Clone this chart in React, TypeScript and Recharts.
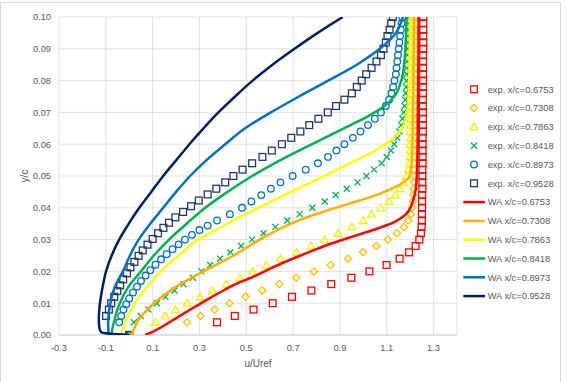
import React from 'react'
import { ScatterChart, Scatter, XAxis, YAxis, CartesianGrid, Legend } from 'recharts'

type Pt = [number, number] // [u/Uref, y/c]

const X_TICKS = [-0.3, -0.1, 0.1, 0.3, 0.5, 0.7, 0.9, 1.1, 1.3]
const Y_TICKS = [0, 0.01, 0.02, 0.03, 0.04, 0.05, 0.06, 0.07, 0.08, 0.09, 0.1]

// measured profiles
const EXP_6753: Pt[] = [
  [0, 0], [0.375, 0.004], [0.451, 0.006], [0.531, 0.008], [0.613, 0.010], [0.695, 0.012], [0.778, 0.014],
  [0.863, 0.016], [0.949, 0.018], [1.026, 0.020], [1.099, 0.022], [1.155, 0.024], [1.195, 0.026],
  [1.223, 0.028], [1.239, 0.030], [1.246, 0.032], [1.249, 0.034], [1.250, 0.036], [1.250, 0.038],
  [1.251, 0.040], [1.251, 0.042], [1.251, 0.044], [1.252, 0.046], [1.252, 0.048], [1.252, 0.050],
  [1.252, 0.052], [1.253, 0.054], [1.253, 0.056], [1.253, 0.058], [1.253, 0.060], [1.253, 0.062],
  [1.254, 0.064], [1.254, 0.066], [1.254, 0.068], [1.254, 0.070], [1.254, 0.072], [1.254, 0.074],
  [1.255, 0.076], [1.255, 0.078], [1.255, 0.080], [1.255, 0.082], [1.255, 0.084], [1.255, 0.086],
  [1.255, 0.088], [1.256, 0.090], [1.256, 0.092], [1.256, 0.094], [1.256, 0.096], [1.256, 0.098], [1.256, 0.100],
]

const EXP_7308: Pt[] = [
  [0, 0], [0.247, 0.004], [0.304, 0.006], [0.365, 0.008], [0.428, 0.010], [0.497, 0.012], [0.568, 0.014],
  [0.641, 0.016], [0.714, 0.018], [0.789, 0.020], [0.860, 0.022], [0.935, 0.024], [0.999, 0.026],
  [1.056, 0.028], [1.105, 0.030], [1.143, 0.032], [1.173, 0.034], [1.192, 0.036], [1.203, 0.038],
  [1.209, 0.040], [1.212, 0.042], [1.214, 0.044], [1.215, 0.046], [1.216, 0.048], [1.216, 0.050],
  [1.217, 0.052], [1.217, 0.054], [1.218, 0.056], [1.218, 0.058], [1.219, 0.060], [1.219, 0.062],
  [1.220, 0.064], [1.220, 0.066], [1.220, 0.068], [1.221, 0.070], [1.221, 0.072], [1.221, 0.074],
  [1.222, 0.076], [1.222, 0.078], [1.222, 0.080], [1.223, 0.082], [1.223, 0.084], [1.223, 0.086],
  [1.223, 0.088], [1.224, 0.090], [1.224, 0.092], [1.224, 0.094], [1.224, 0.096], [1.225, 0.098], [1.225, 0.100],
]

const EXP_7863: Pt[] = [
  [0, 0], [0.111, 0.004], [0.154, 0.006], [0.197, 0.008], [0.247, 0.010], [0.302, 0.012], [0.355, 0.014],
  [0.414, 0.016], [0.472, 0.018], [0.528, 0.020], [0.585, 0.022], [0.646, 0.024], [0.715, 0.026],
  [0.776, 0.028], [0.834, 0.030], [0.892, 0.032], [0.951, 0.034], [0.999, 0.036], [1.035, 0.038],
  [1.075, 0.040], [1.110, 0.042], [1.137, 0.044], [1.156, 0.046], [1.172, 0.048], [1.185, 0.050],
  [1.193, 0.052], [1.197, 0.054], [1.199, 0.056], [1.200, 0.058], [1.200, 0.060], [1.201, 0.062],
  [1.201, 0.064], [1.201, 0.066], [1.202, 0.068], [1.202, 0.070], [1.202, 0.072], [1.203, 0.074],
  [1.203, 0.076], [1.203, 0.078], [1.203, 0.080], [1.204, 0.082], [1.204, 0.084], [1.204, 0.086],
  [1.204, 0.088], [1.205, 0.090], [1.205, 0.092], [1.205, 0.094], [1.205, 0.096], [1.206, 0.098], [1.206, 0.100],
]

const EXP_8418: Pt[] = [
  [0, 0], [0.020, 0.004], [0.049, 0.006], [0.082, 0.008], [0.118, 0.010], [0.155, 0.012], [0.193, 0.014],
  [0.232, 0.016], [0.272, 0.018], [0.308, 0.020], [0.346, 0.022], [0.388, 0.024], [0.432, 0.026],
  [0.478, 0.028], [0.525, 0.030], [0.574, 0.032], [0.624, 0.034], [0.675, 0.036], [0.728, 0.038],
  [0.782, 0.040], [0.835, 0.042], [0.882, 0.044], [0.929, 0.046], [0.975, 0.048], [1.013, 0.050],
  [1.046, 0.052], [1.078, 0.054], [1.100, 0.056], [1.118, 0.058], [1.132, 0.060], [1.145, 0.062],
  [1.154, 0.064], [1.161, 0.066], [1.167, 0.068], [1.172, 0.070], [1.176, 0.072], [1.179, 0.074],
  [1.181, 0.076], [1.183, 0.078], [1.184, 0.080], [1.185, 0.082], [1.186, 0.084], [1.187, 0.086],
  [1.188, 0.088], [1.189, 0.090], [1.189, 0.092], [1.190, 0.094], [1.191, 0.096], [1.191, 0.098], [1.192, 0.100],
]

const EXP_8973: Pt[] = [
  [0, 0], [-0.043, 0.004], [-0.034, 0.006], [-0.025, 0.008], [-0.013, 0.0097], [0.000, 0.0115],
  [0.016, 0.0134], [0.033, 0.0152], [0.050, 0.017], [0.070, 0.0187], [0.090, 0.0204], [0.112, 0.0221],
  [0.136, 0.0238], [0.160, 0.0254], [0.185, 0.027], [0.211, 0.0285], [0.238, 0.030], [0.268, 0.0315],
  [0.300, 0.033], [0.335, 0.0344], [0.375, 0.036], [0.430, 0.038], [0.482, 0.040], [0.522, 0.042],
  [0.564, 0.044], [0.605, 0.046], [0.646, 0.048], [0.698, 0.050], [0.754, 0.052], [0.806, 0.054],
  [0.849, 0.056], [0.885, 0.058], [0.919, 0.060], [0.955, 0.062], [0.988, 0.064], [1.020, 0.066],
  [1.049, 0.068], [1.075, 0.070], [1.096, 0.072], [1.110, 0.074], [1.120, 0.076], [1.127, 0.078],
  [1.133, 0.080], [1.139, 0.082], [1.142, 0.084], [1.145, 0.086], [1.148, 0.088], [1.151, 0.090],
  [1.154, 0.092], [1.157, 0.094], [1.160, 0.096], [1.163, 0.098], [1.166, 0.100],
]

const EXP_9528: Pt[] = [
  [0, 0], [-0.099, 0.006], [-0.087, 0.008], [-0.077, 0.010], [-0.064, 0.012], [-0.051, 0.0138],
  [-0.039, 0.0156], [-0.026, 0.0175], [-0.010, 0.0194], [0.005, 0.0213], [0.022, 0.023], [0.040, 0.0249],
  [0.058, 0.0266], [0.078, 0.0284], [0.100, 0.0302], [0.123, 0.032], [0.146, 0.0337], [0.170, 0.0353],
  [0.197, 0.037], [0.230, 0.0387], [0.264, 0.0405], [0.297, 0.0423], [0.335, 0.0442], [0.372, 0.046],
  [0.410, 0.048], [0.445, 0.050], [0.484, 0.052], [0.525, 0.054], [0.569, 0.056], [0.609, 0.058],
  [0.652, 0.060], [0.692, 0.062], [0.731, 0.064], [0.769, 0.066], [0.808, 0.068], [0.848, 0.070],
  [0.883, 0.072], [0.919, 0.074], [0.951, 0.076], [0.972, 0.078], [0.993, 0.080], [1.012, 0.082],
  [1.035, 0.084], [1.056, 0.086], [1.075, 0.088], [1.086, 0.090], [1.096, 0.092], [1.103, 0.094],
  [1.112, 0.096], [1.119, 0.098], [1.126, 0.100],
]

// wall-adapted model profiles
const WA_6753: Pt[] = [
  [0.068, 0], [0.100, 0.001], [0.140, 0.0026], [0.211, 0.0058], [0.282, 0.0089], [0.335, 0.0112],
  [0.410, 0.0143], [0.445, 0.0157], [0.520, 0.018], [0.589, 0.0204], [0.660, 0.0228], [0.732, 0.025],
  [0.800, 0.027], [0.861, 0.0287], [0.918, 0.0301], [0.990, 0.0318], [1.061, 0.0335], [1.120, 0.0351],
  [1.160, 0.0367], [1.188, 0.0385], [1.203, 0.0403], [1.215, 0.043], [1.225, 0.0465], [1.231, 0.056],
  [1.233, 0.070], [1.235, 0.085], [1.236, 0.100],
]

const WA_7308: Pt[] = [
  [0.010, 0], [0.040, 0.0047], [0.082, 0.0084], [0.140, 0.012], [0.211, 0.0157], [0.297, 0.0192],
  [0.382, 0.0225], [0.446, 0.025], [0.513, 0.028], [0.589, 0.0313], [0.660, 0.034], [0.730, 0.0362],
  [0.790, 0.0378], [0.860, 0.0395], [0.940, 0.0413], [1.035, 0.0435], [1.105, 0.0455], [1.155, 0.0472],
  [1.185, 0.0488], [1.198, 0.050], [1.206, 0.054], [1.210, 0.060], [1.213, 0.075], [1.215, 0.088], [1.217, 0.100],
]

const WA_7863: Pt[] = [
  [-0.035, 0], [-0.012, 0.005], [0.025, 0.010], [0.075, 0.015], [0.135, 0.020], [0.212, 0.025],
  [0.295, 0.030], [0.370, 0.033], [0.432, 0.0355], [0.550, 0.040], [0.620, 0.0425], [0.708, 0.0456],
  [0.790, 0.0485], [0.910, 0.0528], [0.985, 0.0555], [1.050, 0.058], [1.105, 0.0605], [1.145, 0.063],
  [1.172, 0.066], [1.188, 0.070], [1.195, 0.078], [1.198, 0.090], [1.200, 0.100],
]

const WA_8418: Pt[] = [
  [-0.076, 0], [-0.072, 0.002], [-0.062, 0.005], [-0.046, 0.009], [-0.003, 0.0152], [0.050, 0.020],
  [0.105, 0.025], [0.170, 0.030], [0.245, 0.035], [0.325, 0.040], [0.420, 0.045], [0.525, 0.050],
  [0.620, 0.054], [0.725, 0.058], [0.835, 0.062], [0.945, 0.066], [1.025, 0.069], [1.090, 0.072],
  [1.132, 0.075], [1.162, 0.080], [1.176, 0.0865], [1.182, 0.094], [1.185, 0.100],
]

const WA_8973: Pt[] = [
  [-0.088, 0], [-0.090, 0.004], [-0.083, 0.009], [-0.062, 0.015], [-0.027, 0.020], [0.003, 0.025],
  [0.040, 0.030], [0.090, 0.035], [0.145, 0.040], [0.200, 0.045], [0.260, 0.050], [0.330, 0.055],
  [0.410, 0.060], [0.495, 0.065], [0.605, 0.070], [0.725, 0.075], [0.850, 0.080], [0.972, 0.085],
  [1.070, 0.090], [1.139, 0.095], [1.169, 0.100],
]

const WA_9528: Pt[] = [
  [0.0, 0.0], [-0.118, 0.0008], [-0.127, 0.002], [-0.130, 0.005], [-0.125, 0.010], [-0.114, 0.015],
  [-0.099, 0.020], [-0.075, 0.025], [-0.043, 0.030], [-0.002, 0.035], [0.043, 0.040], [0.094, 0.045],
  [0.145, 0.050], [0.201, 0.055], [0.257, 0.060], [0.317, 0.065], [0.381, 0.070], [0.452, 0.075],
  [0.527, 0.080], [0.612, 0.085], [0.706, 0.090], [0.805, 0.095], [0.912, 0.100],
]

type Kind = 'square' | 'diamond' | 'triangle' | 'cross' | 'circle' | 'line'

const SERIES: { name: string; color: string; kind: Kind; pts: Pt[] }[] = [
  { name: 'exp. x/c=0.6753', color: '#FF0000', kind: 'square', pts: EXP_6753 },
  { name: 'exp. x/c=0.7308', color: '#FFC000', kind: 'diamond', pts: EXP_7308 },
  { name: 'exp. x/c=0.7863', color: '#F2F200', kind: 'triangle', pts: EXP_7863 },
  { name: 'exp. x/c=0.8418', color: '#00B050', kind: 'cross', pts: EXP_8418 },
  { name: 'exp. x/c=0.8973', color: '#0070C0', kind: 'circle', pts: EXP_8973 },
  { name: 'exp. x/c=0.9528', color: '#203864', kind: 'square', pts: EXP_9528 },
  { name: 'WA x/c=0.6753', color: '#FF0000', kind: 'line', pts: WA_6753 },
  { name: 'WA x/c=0.7308', color: '#FFB000', kind: 'line', pts: WA_7308 },
  { name: 'WA x/c=0.7863', color: '#FFFF00', kind: 'line', pts: WA_7863 },
  { name: 'WA x/c=0.8418', color: '#00B050', kind: 'line', pts: WA_8418 },
  { name: 'WA x/c=0.8973', color: '#0070C0', kind: 'line', pts: WA_8973 },
  { name: 'WA x/c=0.9528', color: '#002060', kind: 'line', pts: WA_9528 },
]

const TEXT = '#595959'
const FONT = '"Liberation Sans", Arial, sans-serif'

function drawMarker(kind: Kind, color: string, cx: number, cy: number) {
  const sw = 1.3
  switch (kind) {
    case 'square':
      return <rect x={cx - 3.4} y={cy - 3.4} width={6.8} height={6.8} fill="none" stroke={color} strokeWidth={sw} />
    case 'diamond':
      return <polygon points={`${cx},${cy - 3.6} ${cx + 3.6},${cy} ${cx},${cy + 3.6} ${cx - 3.6},${cy}`} fill="none" stroke={color} strokeWidth={sw} />
    case 'triangle':
      return <polygon points={`${cx},${cy - 3.8} ${cx + 3.8},${cy + 3} ${cx - 3.8},${cy + 3}`} fill="none" stroke={color} strokeWidth={sw} />
    case 'cross':
      return <path d={`M${cx - 3},${cy - 3}L${cx + 3},${cy + 3}M${cx + 3},${cy - 3}L${cx - 3},${cy + 3}`} stroke={color} strokeWidth={sw} />
    case 'circle':
      return <circle cx={cx} cy={cy} r={3.3} fill="none" stroke={color} strokeWidth={sw} />
    default:
      return <g />
  }
}

const LegendBox = () => (
  <svg width={104} height={232} style={{ display: 'block' }}>
    {SERIES.map((s, i) => {
      const cy = 9.3 + i * 18.8
      return (
        <g key={s.name}>
          {s.kind === 'line'
            ? <line x1={3.3} x2={25} y1={cy} y2={cy} stroke={s.color} strokeWidth={2.5} />
            : drawMarker(s.kind, s.color, 14, cy)}
          <text x={27.7} y={cy} dy="0.35em" fontSize={9.3} fill={TEXT} fontFamily={FONT}>{s.name}</text>
        </g>
      )
    })}
  </svg>
)

export default function App() {
  return (
    <div style={{ position: 'absolute', left: 0, top: 0, width: 567, height: 382, background: '#fff' }}>
      <div style={{ position: 'absolute', left: 0, top: 2, width: 561, height: 384, border: '1px solid #d9d9d9', boxSizing: 'border-box' }} />
      <ScatterChart width={567} height={382} margin={{ top: 17, right: 110, bottom: 17, left: 0 }}>
        <CartesianGrid stroke="#d9d9d9" strokeWidth={0.8} />
        <XAxis
          type="number"
          dataKey="u"
          domain={[-0.3, 1.4]}
          ticks={X_TICKS}
          tickFormatter={(v: number) => v.toFixed(1)}
          allowDataOverflow
          height={30}
          tickLine={false}
          axisLine={{ stroke: '#d0d0d0' }}
          tick={{ fill: TEXT, fontSize: 9.3, fontFamily: FONT }}
          tickMargin={3}
          label={{ value: 'u/Uref', position: 'insideBottom', offset: -2, fill: TEXT, fontSize: 10, fontFamily: FONT }}
        />
        <YAxis
          type="number"
          dataKey="y"
          domain={[0, 0.1]}
          ticks={Y_TICKS}
          tickFormatter={(v: number) => v.toFixed(2)}
          allowDataOverflow
          width={59}
          tickLine={false}
          axisLine={false}
          tick={{ fill: TEXT, fontSize: 9.3, fontFamily: FONT }}
          label={{
            value: 'y/c',
            content: () => (
              <text x={25} y={176} transform="rotate(-90 25 176)" textAnchor="middle" dominantBaseline="middle" fill={TEXT} fontSize={10} fontFamily={FONT}>y/c</text>
            ),
          }}
        />
        {SERIES.map((s) =>
          s.kind === 'line' ? (
            <Scatter
              key={s.name}
              name={s.name}
              data={s.pts.map(([u, y]) => ({ u, y }))}
              fill={s.color}
              line={{ stroke: s.color, strokeWidth: 2.5 }}
              lineType="joint"
              lineJointType="monotoneY"
              shape={() => <g />}
              isAnimationActive={false}
            />
          ) : (
            <Scatter
              key={s.name}
              name={s.name}
              data={s.pts.map(([u, y]) => ({ u, y }))}
              fill={s.color}
              shape={(p: any) => drawMarker(s.kind, s.color, p.cx, p.cy)}
              isAnimationActive={false}
            />
          )
        )}
        <Legend
          layout="vertical"
          align="center"
          verticalAlign="middle"
          wrapperStyle={{ left: 460, top: 80, width: 104, height: 232 }}
          content={() => <LegendBox />}
        />
      </ScatterChart>
    </div>
  )
}
